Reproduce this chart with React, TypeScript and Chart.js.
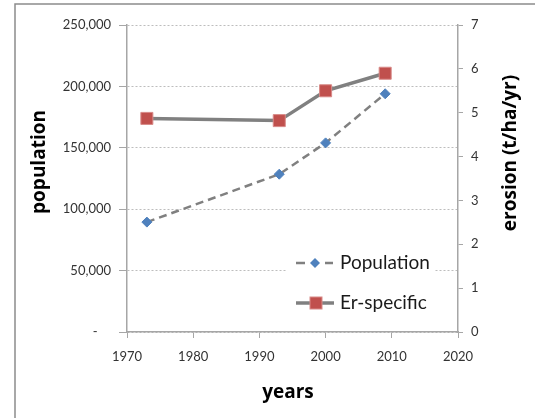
import React, { useEffect, useRef } from "react";
import { Chart, registerables } from "chart.js";

Chart.register(...registerables);

const years = [1973, 1993, 2000, 2009];
const population = [89500, 128500, 154000, 194000];
const erosion = [4.87, 4.82, 5.5, 5.9];
const seriesNames = ["Population", "Er-specific"];
const axisTitles = { left: "population", right: "erosion (t/ha/yr)", bottom: "years" };

const GRAY_LINE = "#808080";
const BLUE = "#4f81bd";
const RED = "#c0504d";
const FONT = "Lato";
const TITLE_FONT = "'Open Sans'";

const decorPlugin = {
  id: "decor",
  beforeDraw(chart: any) {
    const ctx = chart.ctx;
    ctx.save();
    ctx.fillStyle = "#ffffff";
    ctx.fillRect(0, 0, chart.width, chart.height);
    ctx.strokeStyle = "#8c8c8c";
    ctx.lineWidth = 1.5;
    ctx.beginPath();
    ctx.moveTo(15, chart.height);
    ctx.lineTo(15, 4);
    ctx.lineTo(chart.width, 4);
    ctx.stroke();
    ctx.restore();
  },
  afterDraw(chart: any) {
    const ctx = chart.ctx;
    ctx.save();
    // axis titles
    ctx.fillStyle = "#000000";
    ctx.font = `bold 19px ${TITLE_FONT}`;
    ctx.textAlign = "center";
    ctx.textBaseline = "middle";
    ctx.save();
    ctx.translate(40, 162);
    ctx.rotate(-Math.PI / 2);
    ctx.fillText(axisTitles.left, 0, 0);
    ctx.restore();
    ctx.save();
    ctx.translate(511, 153);
    ctx.rotate(-Math.PI / 2);
    ctx.fillText(axisTitles.right, 0, 0);
    ctx.restore();
    ctx.fillText(axisTitles.bottom, 288, 393);

    // legend
    const lx = 287;
    const ly = 246;
    ctx.fillStyle = "#ffffff";
    ctx.fillRect(lx, ly, 148, 74);
    const y1 = 263;
    const y2 = 303;
    ctx.strokeStyle = GRAY_LINE;
    ctx.lineWidth = 2.5;
    ctx.beginPath();
    ctx.moveTo(296, y1);
    ctx.lineTo(305, y1);
    ctx.moveTo(325, y1);
    ctx.lineTo(333, y1);
    ctx.stroke();
    ctx.fillStyle = BLUE;
    ctx.beginPath();
    ctx.moveTo(315 - 5, y1);
    ctx.lineTo(315, y1 - 5);
    ctx.lineTo(315 + 5, y1);
    ctx.lineTo(315, y1 + 5);
    ctx.closePath();
    ctx.fill();
    ctx.lineWidth = 3.5;
    ctx.beginPath();
    ctx.moveTo(296, y2);
    ctx.lineTo(334, y2);
    ctx.stroke();
    ctx.fillStyle = RED;
    ctx.fillRect(316 - 6, y2 - 6, 12, 12);
    ctx.strokeStyle = "#d88a88";
    ctx.lineWidth = 1;
    ctx.strokeRect(316 - 6, y2 - 6, 12, 12);
    ctx.fillStyle = "#1a1a1a";
    ctx.font = `19px ${FONT}`;
    ctx.textAlign = "left";
    ctx.textBaseline = "middle";
    ctx.fillText(seriesNames[0], 340, y1);
    ctx.fillText(seriesNames[1], 340, y2);
    ctx.restore();
  },
};

export default function App() {
  const ref = useRef<HTMLCanvasElement>(null);

  useEffect(() => {
    document.body.style.margin = "0";
    const canvas = ref.current;
    if (!canvas) return;
    const chart = new Chart(canvas, {
      type: "line",
      data: {
        datasets: [
          {
            label: seriesNames[0],
            data: years.map((x, i) => ({ x, y: population[i] })),
            yAxisID: "y",
            borderColor: GRAY_LINE,
            borderWidth: 2.5,
            borderDash: [8, 5],
            pointStyle: "rectRot",
            pointRadius: 5,
            pointBackgroundColor: BLUE,
            pointBorderColor: BLUE,
            pointBorderWidth: 1,
            tension: 0,
          },
          {
            label: seriesNames[1],
            data: years.map((x, i) => ({ x, y: erosion[i] })),
            yAxisID: "y1",
            borderColor: GRAY_LINE,
            borderWidth: 3.5,
            pointStyle: "rect",
            pointRadius: 8.5,
            pointBackgroundColor: RED,
            pointBorderColor: "#d88a88",
            pointBorderWidth: 1,
            tension: 0,
          },
        ],
      },
      options: {
        animation: false,
        responsive: false,
        devicePixelRatio: 1,
        layout: { padding: { top: 25, left: 0, right: 0, bottom: 0 } },
        plugins: {
          legend: { display: false },
          tooltip: { enabled: false },
        },
        scales: {
          x: {
            type: "linear",
            min: 1970,
            max: 2020,
            ticks: {
              stepSize: 10,
              color: "#333333",
              font: { family: FONT, size: 13 },
              padding: 11,
              callback: (v: any) => String(v),
            },
            grid: {
              drawOnChartArea: false,
              drawTicks: true,
              tickLength: 6,
              tickColor: "#a6a6a6",
            },
            border: { color: "#a6a6a6", width: 1.5 },
            afterFit: (s: any) => {
              s.height = 86;
            },
          },
          y: {
            type: "linear",
            position: "left",
            min: 0,
            max: 250000,
            ticks: {
              stepSize: 50000,
              color: "#333333",
              font: { family: FONT, size: 13 },
              padding: 8,
              callback: (v: any) => (v === 0 ? "-    " : Number(v).toLocaleString("en-US")),
            },
            grid: {
              color: "#bdbdbd",
              lineWidth: 1,
              drawTicks: true,
              tickLength: 8,
              tickColor: "#a6a6a6",
            },
            border: { color: "#a6a6a6", width: 1.5, dash: [2, 2] },
            afterFit: (s: any) => {
              s.width = 127;
            },
          },
          y1: {
            type: "linear",
            position: "right",
            min: 0,
            max: 7,
            ticks: {
              stepSize: 1,
              color: "#333333",
              font: { family: FONT, size: 13 },
              padding: 8,
            },
            grid: {
              drawOnChartArea: false,
              drawTicks: true,
              tickLength: 5,
              tickColor: "#a6a6a6",
            },
            border: { color: "#a6a6a6", width: 1.5 },
            afterFit: (s: any) => {
              s.width = 77;
            },
          },
        },
      },
      plugins: [decorPlugin],
    });
    return () => chart.destroy();
  }, []);

  return (
    <div style={{ position: "absolute", left: 0, top: 0, width: 535, height: 418 }}>
      <canvas ref={ref} width={535} height={418} style={{ width: 535, height: 418 }} />
    </div>
  );
}
